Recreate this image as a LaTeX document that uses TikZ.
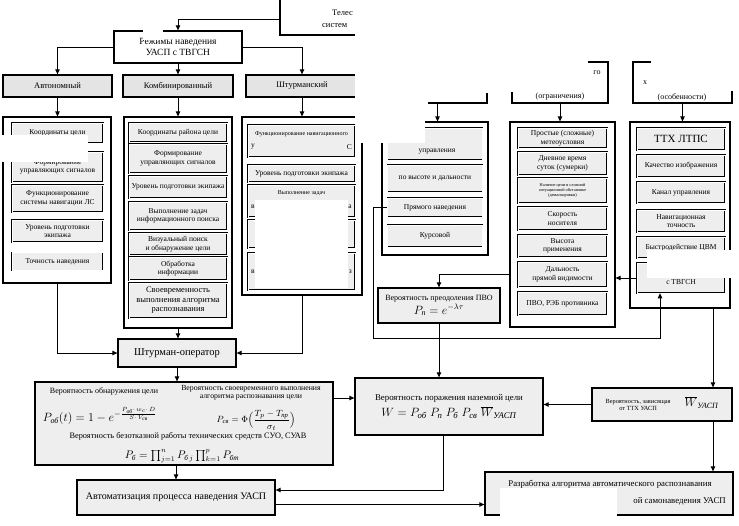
\documentclass[tikz,border=0pt]{standalone}
\usepackage{amsmath}
\usepackage{fontspec}
\setmainfont{Liberation Serif}
\usepackage{xcolor}
\usepackage{tikz}
\usetikzlibrary{positioning, arrows.meta}
\definecolor{BoxGray}{HTML}{EEEEEE}
\definecolor{HeadGray}{HTML}{E4E4E4}
\newcommand{\cyrsub}[1]{\text{\itshape #1}}

\begin{document}
\begin{tikzpicture}[x=1pt, y=-1pt,
    framebox/.style={draw, line width=1.2pt, fill=white, inner sep=0pt},
    headbox/.style={draw, line width=1.3pt, fill=HeadGray, align=center, inner sep=1pt, font=\fontsize{8.5}{10}\selectfont},
    mainbox/.style={draw, line width=1.3pt, fill=BoxGray, align=center, inner sep=1pt},
    itembox/.style={draw, double=white, double distance=0.5pt, line width=0.6pt, fill=BoxGray, align=center, inner sep=1pt, font=\fontsize{7.5}{8.5}\selectfont},
    itemA/.style={itembox, minimum width=91pt},
    itemB/.style={itembox, minimum width=98pt},
    itemC/.style={itembox, minimum width=107pt},
    itemD/.style={itembox, minimum width=95pt},
    itemE/.style={itembox, minimum width=89pt},
    itemF/.style={itembox, minimum width=88pt},
    frag/.style={inner sep=0pt, font=\fontsize{7.5}{8.5}\selectfont},
    patch/.style={fill=white, draw=none},
    arr/.style={-{Triangle[length=5pt, width=4.5pt]}, line width=0.9pt},
    ln/.style={line width=0.9pt}
]
\useasboundingbox (0,0) rectangle (739,525);

% top row, left part
\node[framebox, minimum width=100pt, minimum height=40pt] at (330,15) (top0) {};
\node[frag, anchor=west, font=\fontsize{8.5}{10}\selectfont] at (332,13) (top0a) {Телес};
\node[frag, anchor=west, font=\fontsize{8.5}{10}\selectfont] at (322,26) (top0b) {систем};
\node[headbox, fill=white, minimum width=128pt, minimum height=32pt, font=\fontsize{9.5}{11}\selectfont] at (178,47) (rezh) {Режимы наведения\\УАСП с ТВГСН};

\node[headbox, minimum width=109pt, minimum height=22pt] at (57.5,86) (avt) {Автономный};
\node[headbox, minimum width=110pt, minimum height=22pt] at (178,86) (komb) {Комбинированный};
\node[headbox, minimum width=112pt, minimum height=22pt] at (302,86) (shtm) {Штурманский};

% left containers
\node[framebox, minimum width=108pt, minimum height=166pt] at (57,200) (contA) {};
\node[framebox, minimum width=108pt, minimum height=211pt] at (178,222.5) (contB) {};
\node[framebox, minimum width=120pt, minimum height=178pt] at (302,206) (contC) {};

\node[itemA, minimum height=20pt] at (57.5,133) (a1) {Координаты цели};
\node[itemA, minimum height=30pt] at (57.5,167) (a2) {Формирование\\управляющих сигналов};
\node[itemA, minimum height=27pt] at (57.5,198.5) (a3) {Функционирование\\системы навигации ЛС};
\node[itemA, minimum height=22pt] at (57.5,231) (a4) {Уровень подготовки\\экипажа};
\node[itemA, minimum height=18pt] at (57.5,261.5) (a5) {Точность наведения};

\node[itemB, minimum height=19pt] at (178,132.5) (b1) {Координаты района цели};
\node[itemB, minimum height=29pt] at (178,158.5) (b2) {Формирование\\управляющих сигналов};
\node[itemB, minimum height=22pt] at (178,187) (b3) {Уровень подготовки экипажа};
\node[itemB, minimum height=28pt] at (178,216) (b4) {Выполнение задач\\информационного поиска};
\node[itemB, minimum height=22pt] at (178,244) (b5) {Визуальный поиск\\и обнаружение цели};
\node[itemB, minimum height=23pt] at (178,268.5) (b6) {Обработка\\информации};
\node[itemB, minimum height=35pt, font=\fontsize{8.5}{9.5}\selectfont] at (178,300.5) (b7) {Своевременность\\выполнения алгоритма\\распознавания};

\node[itemC, minimum height=32pt] at (301.5,141) (c1) {};
\node[frag, font=\fontsize{6}{7}\selectfont] at (301.5,134) (c1a) {Функционирование навигационного};
\node[frag, anchor=west] at (251,147) (c1b) {у};
\node[frag, anchor=east] at (352,147) (c1c) {С};
\node[itemC, minimum height=17pt] at (301.5,173.5) (c2) {Уровень подготовки экипажа};
\node[itemC, minimum height=32pt] at (301.5,201) (c3) {};
\node[frag, font=\fontsize{6}{7}\selectfont] at (301.5,193) (c3a) {Выполнение задач};
\node[frag, anchor=west] at (251,207) (c3b) {в};
\node[frag, anchor=east] at (352,207) (c3c) {а};
\node[itemC, minimum height=28pt] at (301.5,234) (c4) {};
\node[itemC, minimum height=37pt] at (301.5,271.5) (c5) {};
\node[frag, anchor=west] at (251,272) (c5b) {в};
\node[frag, anchor=east] at (352,272) (c5c) {з};

% lower left part
\node[mainbox, minimum width=118pt, minimum height=28pt, font=\fontsize{10.5}{12}\selectfont] at (177,353) (shturm) {Штурман-оператор};
\node[mainbox, minimum width=298pt, minimum height=83pt] at (184,423.5) (fbox) {};
\node[frag, font=\fontsize{8}{9}\selectfont] at (104,391) (pobt) {Вероятность обнаружения цели};
\node[frag, align=center, font=\fontsize{7.8}{8.3}\selectfont] at (251,392.5) (psvt) {Вероятность своевременного выполнения\\алгоритма распознавания цели};
\node[frag, font=\fontsize{11.5}{13}\selectfont] at (100,416) (pob) {$P_{\cyrsub{об}}(t)=1-e^{-\frac{P_{\cyrsub{об}}\cdot\, w_{c}\cdot\, D}{S\cdot\, V_{\cyrsub{св}}}}$};
\node[frag, font=\fontsize{9.5}{10.5}\selectfont] at (256,420.5) (psv) {$P_{\cyrsub{св}}=\Phi\Bigl(\dfrac{T_p-T_{\cyrsub{пр}}}{\sigma_t}\Bigr)$};
\node[frag, font=\fontsize{8.3}{9}\selectfont] at (188,436) (pbt) {Вероятность безотказной работы технических средств СУО, СУАВ};
\node[frag, font=\fontsize{10.5}{12}\selectfont] at (182,456.5) (pb) {$P_{\cyrsub{б}}=\prod_{j=1}^{n}P_{\cyrsub{б}\,j}\prod_{k=1}^{p}P_{\cyrsub{бт}}$};
\node[mainbox, minimum width=198pt, minimum height=35pt, font=\fontsize{10}{11}\selectfont] at (176,497.5) (avtom) {Автоматизация процесса наведения УАСП};

% right part
\node[framebox, minimum width=99pt, minimum height=41pt] at (437.5,82.5) (topA) {};
\node[framebox, minimum width=96pt, minimum height=41pt] at (560,82.5) (topB) {};
\node[frag, font=\fontsize{8}{9}\selectfont] at (597,73) (topBa) {го};
\node[frag, font=\fontsize{8}{9}\selectfont] at (560,97) (topBb) {(ограничения)};
\node[framebox, minimum width=99pt, minimum height=41pt] at (682.5,82.5) (topC) {};
\node[frag, anchor=west, font=\fontsize{8}{9}\selectfont] at (643,83) (topCa) {х};
\node[frag, font=\fontsize{8}{9}\selectfont] at (682,97) (topCb) {(особенности)};

\node[framebox, minimum width=106pt, minimum height=133pt] at (435,188.5) (contD) {};
\node[itemD, minimum height=32pt] at (435,144) (d1) {};
\node[frag] at (437,152) (d1a) {управления};
\node[itemD, minimum height=27pt] at (435,178.5) (d2) {по высоте и дальности};
\node[itemD, minimum height=19pt] at (435,207.5) (d3) {Прямого наведения};
\node[itemD, minimum height=22pt] at (435,236) (d4) {Курсовой};
\node[mainbox, minimum width=122pt, minimum height=35pt, font=\fontsize{8}{9}\selectfont] at (439,305.5) (pvo) {Вероятность преодоления ПВО\\[1pt]{\fontsize{12}{13}\selectfont$P_{\cyrsub{п}}=e^{-\lambda\tau}$}};

\node[framebox, minimum width=105pt, minimum height=205pt] at (562.5,224.5) (contE) {};
\node[itemE, minimum height=20pt] at (562.5,138) (e1) {Простые (сложные)\\метеоусловия};
\node[itemE, minimum height=23pt] at (562.5,163.5) (e2) {Дневное время\\суток (сумерки)};
\node[itemE, minimum height=25pt, font=\fontsize{4.3}{5}\selectfont] at (562.5,190.5) (e3) {Наличие цели в сложной\\ситуационной обстановке\\(демаскировки)};
\node[itemE, minimum height=23pt] at (562.5,218.5) (e4) {Скорость\\носителя};
\node[itemE, minimum height=22pt] at (562.5,246) (e5) {Высота\\применения};
\node[itemE, minimum height=25pt] at (562.5,274.5) (e6) {Дальность\\прямой видимости};
\node[itemE, minimum height=23pt] at (562.5,303.5) (e7) {ПВО, РЭБ противника};

\node[framebox, minimum width=100pt, minimum height=186pt] at (680,215) (contF) {};
\node[itemF, minimum height=22pt, font=\fontsize{11}{12}\selectfont] at (681,139) (f1) {ТТХ ЛТПС};
\node[itemF, minimum height=22pt] at (681,166) (f2) {Качество изображения};
\node[itemF, minimum height=21pt] at (681,192.5) (f3) {Канал управления};
\node[itemF, minimum height=22pt] at (681,221) (f4) {Навигационная\\точность};
\node[itemF, minimum height=21pt] at (681,247.5) (f5) {Быстродействие ЦВМ};
\node[itemF, minimum height=30pt] at (681,278) (f6) {Применение УАСП\\с ТВГСН};

\node[mainbox, minimum width=188pt, minimum height=57pt, font=\fontsize{8.8}{10}\selectfont] at (449,406.5) (wbox) {Вероятность поражения наземной цели\\[3pt]{\fontsize{12.5}{13}\selectfont$W=P_{\cyrsub{об}}\;P_{\cyrsub{п}}\;P_{\cyrsub{б}}\;P_{\cyrsub{св}}\;\overline{W}_{\cyrsub{УАСП}}$}};
\node[mainbox, minimum width=140pt, minimum height=33pt, font=\fontsize{6.3}{7.3}\selectfont] at (662,404.5) (wttx) {\begin{tabular}{@{}c@{}}Вероятность, зависящая\\от ТТХ УАСП\end{tabular}\hspace{14pt}{\fontsize{12}{13}\selectfont$\overline{W}_{\cyrsub{УАСП}}$}};
\node[mainbox, minimum width=248pt, minimum height=43pt] at (609,493.5) (razr) {};
\node[frag, font=\fontsize{8.8}{10}\selectfont] at (610,484) (razra) {Разработка алгоритма автоматического распознавания};
\node[frag, anchor=east, font=\fontsize{8.8}{10}\selectfont] at (726,501) (razrb) {ой самонаведения УАСП};

\coordinate (jn) at (373,338);
\coordinate (rcol) at (713,0);
\coordinate (fup) at ([xshift=-21pt]f6.south);

% connectors
\draw[arr] ([yshift=-4pt]top0.west) -| (rezh.north);
\draw[arr] (rezh.west) -| (avt.north);
\draw[arr] (rezh.east) -| (shtm.north);
\draw[arr] (rezh.south) -- (komb.north);
\draw[arr] (avt.south) -- (avt.south |- contA.north);
\draw[arr] (komb.south) -- (contB.north);
\draw[arr] (shtm.south) -- (contC.north);
\draw[arr] (contA.south) |- (shturm.west);
\draw[arr] (contC.south) |- (shturm.east);
\draw[arr] (contB.south) -- (contB.south |- shturm.north);
\draw[arr] (shturm.south) -- (shturm.south |- fbox.north);
\draw[arr] (avtom.north |- fbox.south) -- (avtom.north);
\draw[arr] ([yshift=25.5pt]fbox.east) -- ([yshift=25.5pt]fbox.east -| wbox.west);

\draw[arr] (topA.south) -- (topA.south |- contD.north);
\draw[arr] (topB.south) -- (topB.south |- contE.north);
\draw[arr] (topC.south) -- (topC.south |- contF.north);
\draw[arr] (contE.west |- e6.west) -| (pvo.north);
\draw[arr] (f6.west) -- (f6.west -| contE.east);
\draw[ln] (d3.west) -| (jn);
\draw[arr] (jn) -- (jn -| fup) -- (fup);
\draw[arr] (pvo.south) -- (pvo.south |- wbox.north);
\draw[arr] (contF.south -| rcol) -- (wttx.north -| rcol);
\draw[arr] (wttx.west) -- (wttx.west -| wbox.east);
\draw[arr] (wttx.south -| rcol) -- (razr.north -| rcol);
\draw[arr] ([xshift=-6pt]wbox.south) |- ([yshift=7.5pt]avtom.east);
\draw[arr] ([yshift=-7pt]avtom.east) -- ([yshift=-7pt]avtom.east -| razr.west);

% blanked areas of the scan
\fill[patch] (358,-2) rectangle (740,58);
\fill[patch] (355,-2) rectangle (505,93);
\fill[patch] (400,90) rectangle (428,107);
\fill[patch] (505,55) rectangle (588,92);
\fill[patch] (651,55) rectangle (740,91);
\fill[patch] (355,90) rectangle (425,143);
\fill[patch] (143,24) rectangle (163,40);
\fill[patch] (0,135) rectangle (88,162);
\fill[patch] (255,200) rectangle (348,288);
\fill[patch] (647,250) rectangle (740,278);
\fill[patch] (500,488) rectangle (617,527);
\end{tikzpicture}
\end{document}
